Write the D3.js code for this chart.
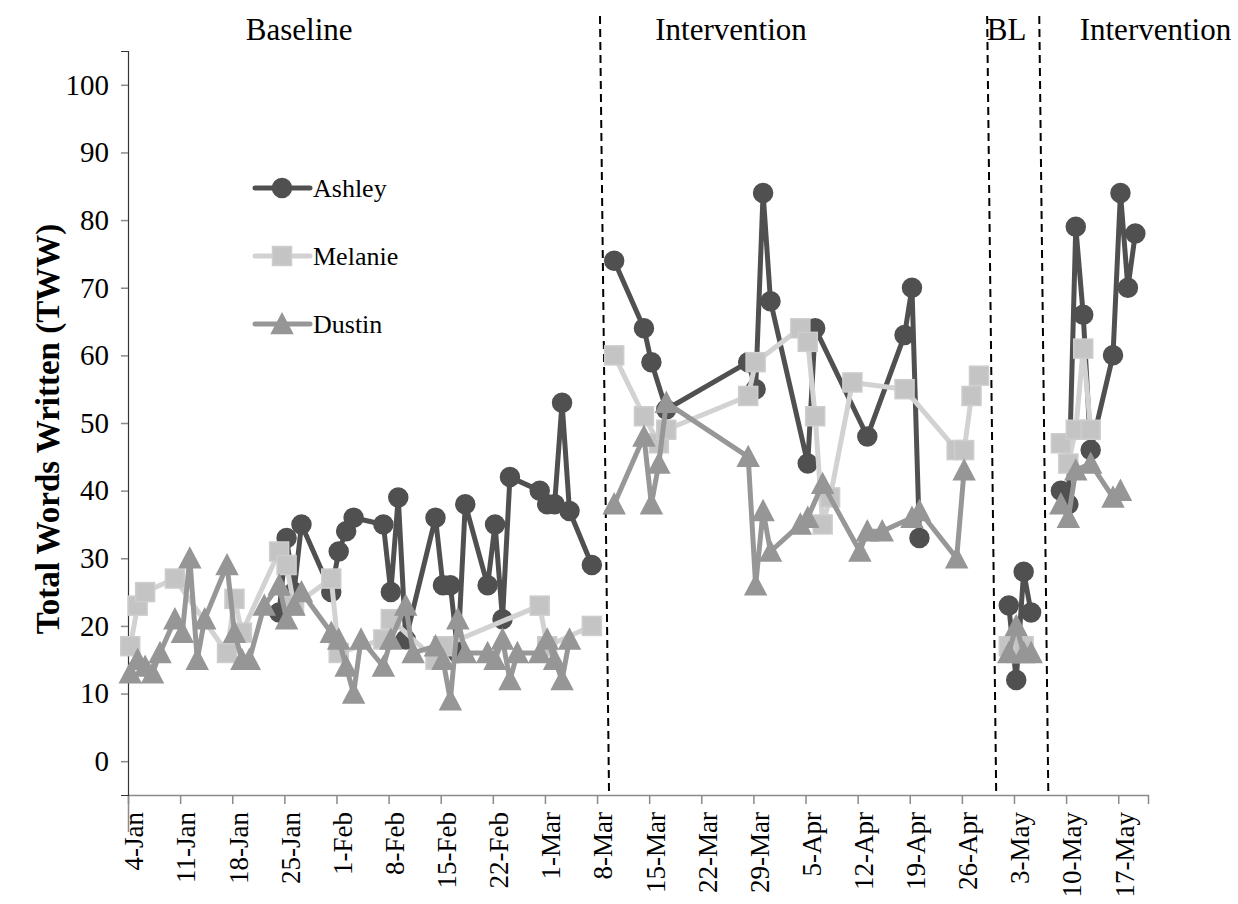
<!DOCTYPE html>
<html>
<head>
<meta charset="utf-8">
<script src="https://cdn.jsdelivr.net/npm/d3@7"></script>
<style>
  body { margin: 0; background: #fff; }
  svg { display: block; font-family: 'Liberation Serif', 'Times New Roman', serif; }
</style>
</head>
<body>
<svg id="chart" width="1238" height="904"></svg>
<script>
// values
const ashleyDates = ["2010-01-24","2010-01-25","2010-01-26","2010-01-27","2010-01-31","2010-02-01","2010-02-02","2010-02-03",
  "2010-02-07","2010-02-08","2010-02-09","2010-02-10","2010-02-14","2010-02-15","2010-02-16","2010-02-17","2010-02-18",
  "2010-02-21","2010-02-22","2010-02-23","2010-02-24","2010-02-28","2010-03-01","2010-03-02","2010-03-03","2010-03-04","2010-03-07",
  "2010-03-10","2010-03-14","2010-03-15","2010-03-17","2010-03-28","2010-03-29","2010-03-30","2010-03-31","2010-04-05","2010-04-06",
  "2010-04-13","2010-04-18","2010-04-19","2010-04-20",
  "2010-05-02","2010-05-03","2010-05-04","2010-05-05",
  "2010-05-09","2010-05-10","2010-05-11","2010-05-12","2010-05-13","2010-05-16","2010-05-17","2010-05-18","2010-05-19"];
const ashleyValues = [22,33,25,35,25,31,34,36,
  35,25,39,18,36,26,26,16,38,
  26,35,21,42,40,38,38,53,37,29,
  74,64,59,52,59,55,84,68,44,64,
  48,63,70,33,
  23,12,28,22,
  40,38,79,66,46,60,84,70,78];

const melanieDates = ["2010-01-04","2010-01-05","2010-01-06","2010-01-10","2010-01-17","2010-01-18","2010-01-19","2010-01-24",
  "2010-01-25","2010-01-26","2010-01-31","2010-02-01","2010-02-07","2010-02-08","2010-02-14","2010-02-15","2010-02-28","2010-03-01","2010-03-07",
  "2010-03-10","2010-03-14","2010-03-16","2010-03-17","2010-03-28","2010-03-29","2010-04-04","2010-04-05","2010-04-06","2010-04-07",
  "2010-04-08","2010-04-11","2010-04-18","2010-04-25","2010-04-26","2010-04-27","2010-04-28",
  "2010-05-02","2010-05-03","2010-05-04",
  "2010-05-09","2010-05-10","2010-05-11","2010-05-12","2010-05-13"];
const melanieValues = [17,23,25,27,16,24,19,31,
  29,23,27,16,18,21,15,17,23,17,20,
  60,51,47,49,54,59,64,62,51,35,
  39,56,55,46,46,54,57,
  17,16,17,
  47,44,49,61,49];

const dustinDates = ["2010-01-04","2010-01-05","2010-01-06","2010-01-07","2010-01-08","2010-01-10","2010-01-11","2010-01-12",
  "2010-01-13","2010-01-14","2010-01-17","2010-01-18","2010-01-19","2010-01-20","2010-01-22","2010-01-24","2010-01-25",
  "2010-01-26","2010-01-27","2010-01-31","2010-02-01","2010-02-02","2010-02-03","2010-02-04","2010-02-07","2010-02-08",
  "2010-02-10","2010-02-11","2010-02-14","2010-02-15","2010-02-16","2010-02-17","2010-02-18","2010-02-21","2010-02-22",
  "2010-02-23","2010-02-24","2010-02-25","2010-02-28","2010-03-01","2010-03-02","2010-03-03","2010-03-04",
  "2010-03-10","2010-03-14","2010-03-15","2010-03-16","2010-03-17","2010-03-28","2010-03-29","2010-03-30","2010-03-31",
  "2010-04-04","2010-04-05","2010-04-07","2010-04-12","2010-04-13","2010-04-15","2010-04-19","2010-04-20","2010-04-25","2010-04-26",
  "2010-05-02","2010-05-03","2010-05-04","2010-05-05",
  "2010-05-09","2010-05-10","2010-05-11","2010-05-13","2010-05-16","2010-05-17"];
const dustinValues = [13,15,14,13,16,21,19,30,
  15,21,29,19,15,15,23,26,21,
  23,25,19,18,14,10,18,14,18,
  23,16,17,15,9,21,16,16,15,
  18,12,16,16,18,15,12,18,
  38,48,38,44,53,45,26,37,31,
  35,36,41,31,34,34,36,37,30,43,
  16,20,16,16,
  38,36,43,44,39,40];

const seriesNames = ["Ashley", "Melanie", "Dustin"];
const yTickValues = [0, 10, 20, 30, 40, 50, 60, 70, 80, 90, 100];
const phaseBreaks = ["2010-03-09", "2010-04-30", "2010-05-07"];
const phaseLabels = ["Baseline", "Intervention", "BL", "Intervention"];
const phaseLabelDates = ["2010-01-27", "2010-03-26", "2010-05-02", "2010-05-22"];
const axisStart = "2010-01-04";
const axisEnd = "2010-05-21";

const parse = d3.utcParse("%Y-%m-%d");
const svg = d3.select("#chart");
const width = 1238, height = 904;
const margin = { top: 51, right: 90, bottom: 109, left: 128 };

const x = d3.scaleUtc()
  .domain([parse(axisStart), parse(axisEnd)])
  .range([margin.left, width - margin.right]);
const y = d3.scaleLinear()
  .domain([-5, 105])
  .range([height - margin.bottom, margin.top]);

const dayWidth = x(d3.utcDay.offset(parse(axisStart), 1)) - x(parse(axisStart));
// excel puts the points a little right of the day tick
const xPos = (date) => x(date) + dayWidth * 0.3;

const breaks = phaseBreaks.map(parse);
const phaseOf = (date) => d3.bisectRight(breaks, date);

const styles = {
  Ashley: { line: "#505050", fill: "#505050", stroke: "#505050", shape: "circle" },
  Melanie: { line: "#d2d2d2", fill: "#c4c4c4", stroke: "#cdcdcd", shape: "square" },
  Dustin: { line: "#979797", fill: "#969696", stroke: "#969696", shape: "triangle" }
};

const seriesData = [
  { name: "Ashley", dates: ashleyDates, values: ashleyValues },
  { name: "Melanie", dates: melanieDates, values: melanieValues },
  { name: "Dustin", dates: dustinDates, values: dustinValues }
].map((s) => ({
  name: s.name,
  points: s.dates.map((d, i) => ({ date: parse(d), value: s.values[i] }))
}));

// axes
const xAxis = d3.axisBottom(x)
  .tickValues(d3.utcMonday.range(parse(axisStart), parse(axisEnd)))
  .tickFormat(d3.utcFormat("%-d-%b"))
  .tickSize(9)
  .tickPadding(0);

const xAxisGroup = svg.append("g")
  .attr("transform", `translate(0, ${y(-5)})`)
  .call(xAxis);
xAxisGroup.select(".domain").attr("stroke", "#8a8a8a").attr("stroke-width", 1.5);
xAxisGroup.selectAll(".tick line").attr("stroke", "#8a8a8a").attr("stroke-width", 1.5);
xAxisGroup.select(".tick line").attr("y2", 37);
xAxisGroup.selectAll(".tick text")
  .attr("font-size", 27)
  .attr("font-family", "'Liberation Serif', serif")
  .attr("fill", "#000")
  .attr("text-anchor", "end")
  .attr("transform", "rotate(-90)")
  .attr("x", -17)
  .attr("y", 0)
  .attr("dy", "0.55em");

const yAxis = d3.axisLeft(y)
  .tickValues(yTickValues)
  .tickSize(7)
  .tickPadding(12);

const yAxisGroup = svg.append("g")
  .attr("transform", `translate(${margin.left}, 0)`)
  .call(yAxis);
yAxisGroup.select(".domain").attr("stroke", "#333").attr("stroke-width", 1.2);
yAxisGroup.selectAll(".tick line").attr("stroke", "#8a8a8a").attr("stroke-width", 1.5);
yAxisGroup.selectAll(".tick text")
  .attr("font-size", 29)
  .attr("font-family", "'Liberation Serif', serif")
  .attr("fill", "#000");

svg.append("text")
  .attr("transform", `translate(47, ${(y(-5) + y(105)) / 2 + 6}) rotate(-90)`)
  .attr("text-anchor", "middle")
  .attr("dy", "0.35em")
  .attr("font-size", 33)
  .attr("font-weight", "bold")
  .text("Total Words Written (TWW)");

// phase change lines (slightly slanted like the hand drawn ones)
svg.append("g").selectAll("line")
  .data(breaks)
  .join("line")
  .attr("x1", (d) => x(d) - 4.5)
  .attr("x2", (d) => x(d) + 4.5)
  .attr("y1", 16)
  .attr("y2", y(-5) - 4)
  .attr("stroke", "#000")
  .attr("stroke-width", 2)
  .attr("stroke-dasharray", "8,5");

svg.append("g").selectAll("text")
  .data(phaseLabels)
  .join("text")
  .attr("x", (d, i) => x(parse(phaseLabelDates[i])))
  .attr("y", 40)
  .attr("text-anchor", "middle")
  .attr("font-size", 31)
  .text((d) => d);

// markers
const triPath = "M0,-10.5L10.5,9.5L-10.5,9.5Z";
function drawMarker(sel, style) {
  if (style.shape === "circle") {
    sel.append("circle").attr("r", 9.5);
  } else if (style.shape === "square") {
    sel.append("rect").attr("x", -9.5).attr("y", -9.5).attr("width", 19).attr("height", 19);
  } else {
    sel.append("path").attr("d", triPath);
  }
  sel.attr("fill", style.fill).attr("stroke", style.stroke).attr("stroke-width", 1.5);
}

const line = d3.line()
  .x((d) => xPos(d.date))
  .y((d) => y(d.value));

const plot = svg.append("g");
seriesData.forEach((s) => {
  const style = styles[s.name];
  const g = plot.append("g");
  const segments = d3.groups(s.points, (d) => phaseOf(d.date));
  g.selectAll("path.seg")
    .data(segments)
    .join("path")
    .attr("class", "seg")
    .attr("fill", "none")
    .attr("stroke", style.line)
    .attr("stroke-width", 5)
    .attr("stroke-linejoin", "round")
    .attr("d", ([, pts]) => line(pts));
  g.selectAll("g.pt")
    .data(s.points)
    .join("g")
    .attr("class", "pt")
    .attr("transform", (d) => `translate(${xPos(d.date)}, ${y(d.value)})`)
    .each(function () { drawMarker(d3.select(this), style); });
});

// legend
const legend = svg.append("g").attr("transform", "translate(255, 188)");
const legendItems = legend.selectAll("g")
  .data(seriesNames)
  .join("g")
  .attr("transform", (d, i) => `translate(0, ${i * 68})`);
legendItems.append("line")
  .attr("x1", 0).attr("x2", 55)
  .attr("stroke", (d) => styles[d].line)
  .attr("stroke-width", 5)
  .attr("stroke-linecap", "round");
legendItems.append("g")
  .attr("transform", "translate(27, 0)")
  .each(function (d) { drawMarker(d3.select(this), styles[d]); });
legendItems.append("text")
  .attr("x", 58)
  .attr("dy", "0.35em")
  .attr("font-size", 26)
  .text((d) => d);
</script>
</body>
</html>
